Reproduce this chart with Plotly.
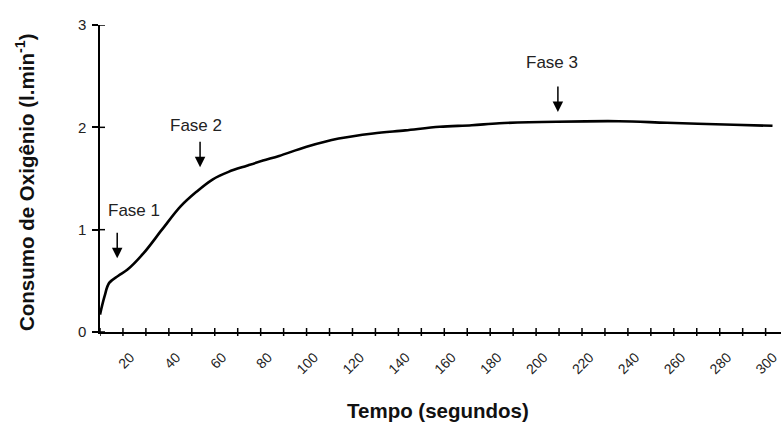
import plotly.graph_objects as go

# Data
tempo = [5, 7, 9, 13, 17, 24, 32, 40, 47, 54, 61, 69, 76, 83, 95, 109, 124, 138,
         153, 167, 179, 204, 231, 252, 281, 298]
consumo = [0.17, 0.35, 0.48, 0.55, 0.61, 0.77, 1.00, 1.225, 1.37, 1.49, 1.565, 1.625,
           1.675, 1.72, 1.81, 1.89, 1.94, 1.97, 2.005, 2.02, 2.04, 2.055, 2.06, 2.045,
           2.025, 2.015]

x_ticks = list(range(20, 301, 20))
x_boundaries = list(range(5, 300, 10))
y_ticks = [0, 1, 2, 3]

fase_labels = ["Fase 1", "Fase 2", "Fase 3"]
fase_tip_x = [12.5, 48.6, 204.5]
fase_tip_y = [0.72, 1.61, 2.15]
fase_txt_x = [19.9, 47.0, 202.0]
fase_txt_y = [1.19, 2.02, 2.63]

FONT = "Arial, Liberation Sans, sans-serif"
XR = [5, 301.7]
YR = [0, 3]

fig = go.Figure()
fig.add_trace(go.Scatter(x=tempo, y=consumo, mode="lines",
                         line=dict(color="black", width=2.6, shape="spline", smoothing=1.0),
                         hoverinfo="skip", showlegend=False))

fig.update_layout(
    width=781, height=422,
    margin=dict(l=100, r=0, t=25, b=90),
    paper_bgcolor="white", plot_bgcolor="white",
    font=dict(family=FONT, color="#222"),
    xaxis=dict(range=XR, tickmode="array", tickvals=x_ticks, ticktext=[str(v) for v in x_ticks],
               tickangle=-45, ticks="", ticklabelstandoff=10, ticklabelshift=-4,
               tickfont=dict(size=14, color="#222"),
               showline=True, linecolor="black", linewidth=1.5,
               showgrid=False, zeroline=False),
    yaxis=dict(range=YR, tickmode="array", tickvals=y_ticks, ticks="outside",
               ticklen=6, tickwidth=1.5, tickcolor="black",
               ticklabelstandoff=3,
               tickfont=dict(size=15, color="#222"),
               showline=True, linecolor="black", linewidth=1.5,
               showgrid=False, zeroline=False),
)

# crossing tick marks, placed at the axis tick values
shapes = []
for b in x_boundaries:
    shapes.append(dict(type="line", xref="x", yref="paper", x0=b, x1=b,
                       ysizemode="pixel", yanchor=0, y0=-4, y1=4,
                       line=dict(color="black", width=1.5)))
for t in y_ticks:
    shapes.append(dict(type="line", xref="paper", yref="y", y0=t, y1=t,
                       xsizemode="pixel", xanchor=0, x0=0, x1=5,
                       line=dict(color="black", width=1.5)))
fig.update_layout(shapes=shapes)

annotations = []
for lab, tx, ty, lx, ly in zip(fase_labels, fase_tip_x, fase_tip_y, fase_txt_x, fase_txt_y):
    annotations.append(dict(x=tx, y=ty, xref="x", yref="y", text="", showarrow=True,
                            ax=0, ay=-27, arrowhead=2, arrowsize=1.4, arrowwidth=1.5,
                            arrowcolor="black", standoff=0))
    annotations.append(dict(x=lx, y=ly, xref="x", yref="y", text=lab,
                            showarrow=False, font=dict(size=17, family=FONT, color="#222"),
                            xanchor="center", yanchor="middle"))

annotations.append(dict(x=0, xref="paper", xshift=-75, y=0.4886, yref="paper",
                        text="Consumo de Oxigênio (l.min<sup>-1</sup>)", textangle=-90,
                        showarrow=False, xanchor="center", yanchor="middle",
                        font=dict(size=20.5, family=FONT, color="#111", weight="bold")))
annotations.append(dict(x=0.497, xref="paper", y=0, yref="paper", yshift=-78,
                        text="Tempo (segundos)", showarrow=False,
                        xanchor="center", yanchor="middle",
                        font=dict(size=20.5, family=FONT, color="#111", weight="bold")))
fig.update_layout(annotations=annotations)

fig.write_html("out.html", config={"displayModeBar": False},
               post_script="document.body.style.margin='0';")
